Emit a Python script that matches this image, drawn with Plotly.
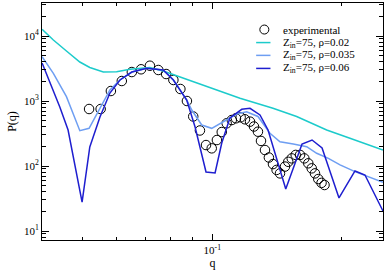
import plotly.graph_objects as go

# experimental data
exp_q = [0.0517, 0.0550, 0.0581, 0.0616, 0.0650, 0.0683, 0.0716, 0.0749, 0.0781, 0.0812,
         0.0843, 0.0873, 0.0903, 0.0936, 0.0967, 0.0997, 0.1025, 0.1052, 0.1080, 0.1110,
         0.1135, 0.1164, 0.1191, 0.1224, 0.1250, 0.1277, 0.1298, 0.1326, 0.1354, 0.1384,
         0.1411, 0.1437, 0.1476, 0.1502, 0.1530, 0.1563, 0.1600, 0.1637, 0.1672, 0.1703,
         0.1733, 0.1764, 0.1795, 0.1824]
exp_p = [753, 753, 1425, 2031, 2790, 3075, 3490, 3000, 2600, 2105,
         1530, 1000, 578, 352, 210, 187, 251, 333, 454, 510,
         542, 561, 523, 481, 405, 337, 243, 176, 135, 107,
         87, 77, 98, 116, 131, 148, 148, 131, 110, 92,
         77, 63, 55, 51]

# model Z_in=75, rho=0.02
q_02 = [0.0402, 0.0427, 0.0458, 0.0492, 0.0519, 0.0558, 0.0599, 0.0644, 0.0716, 0.0769,
        0.1160, 0.1384, 0.1571, 0.1845, 0.2090, 0.2494]
p_02 = [12680, 8680, 5875, 3980, 3275, 2790, 2825, 3075, 3275, 2894,
        1101, 772, 578, 358, 267, 176]

# model Z_in=75, rho=0.035
q_035 = [0.0402, 0.0427, 0.0458, 0.0492, 0.0517, 0.0578, 0.0610, 0.0650, 0.0704, 0.0769,
         0.0812, 0.0872, 0.0896, 0.0945, 0.0997, 0.1061, 0.1140, 0.1202, 0.1277, 0.1362,
         0.1437, 0.1543, 0.1658, 0.1749, 0.1862, 0.1982, 0.2147, 0.2494]
p_035 = [4805, 2667, 1165, 349, 380, 1476, 2105, 2790, 3185, 3000,
         2105, 1036, 727, 427, 380, 475, 631, 684, 578, 318,
         236, 218, 198, 157, 131, 104, 82, 56]

# model Z_in=75, rho=0.06
q_06 = [0.0402, 0.0442, 0.0462, 0.0498, 0.0519, 0.0548, 0.0578, 0.0610, 0.0650, 0.0704,
        0.0769, 0.0812, 0.0872, 0.0912, 0.0936, 0.0967, 0.1015, 0.1052, 0.1099, 0.1171,
        0.1224, 0.1291, 0.1348, 0.1482, 0.1617, 0.1706, 0.1800, 0.1971, 0.2147, 0.2265,
        0.2494]
p_06 = [3845, 809, 358, 27.9, 196, 567, 1327, 2105, 2790, 3185,
        3000, 2105, 1036, 398, 196, 81, 78, 226, 548, 745,
        772, 609, 358, 44.3, 218, 251, 189, 32.2, 83.8, 72.7,
        20.3]

x_major = [0.1]
x_major_text = ["10<sup>-1</sup>"]
x_minor = [0.05, 0.06, 0.07, 0.08, 0.09, 0.2]
y_major = [10, 100, 1000, 10000]
y_major_text = ["10<sup>1</sup>", "10<sup>2</sup>", "10<sup>3</sup>", "10<sup>4</sup>"]
y_minor = [m * 10 ** e for e in range(0, 5) for m in range(2, 10)]

legend_labels = ["experimental", "Z<sub>in</sub>=75, ρ=0.02",
                 "Z<sub>in</sub>=75, ρ=0.035", "Z<sub>in</sub>=75, ρ=0.06"]
line_colors = ["#1ccbcb", "#6e9ef2", "#1e1ecf"]

FONT = "Liberation Serif"

fig = go.Figure()
fig.add_trace(go.Scatter(x=exp_q, y=exp_p, mode="markers", name=legend_labels[0],
                         marker=dict(symbol="circle-open", size=9.5, color="black",
                                     line=dict(width=1, color="black"))))
for q, p, c, lab in [(q_02, p_02, line_colors[0], legend_labels[1]),
                     (q_035, p_035, line_colors[1], legend_labels[2]),
                     (q_06, p_06, line_colors[2], legend_labels[3])]:
    fig.add_trace(go.Scatter(x=q, y=p, mode="lines", name=lab,
                             line=dict(color=c, width=1.5)))

# manual legend (paper coordinates)
leg_x_sym = 0.652
leg_x0, leg_x1 = 0.628, 0.67
leg_x_text = 0.700
leg_y = [0.888, 0.833, 0.779, 0.724]

shapes = [dict(type="circle", xref="paper", yref="paper", xsizemode="pixel", ysizemode="pixel",
               xanchor=leg_x_sym, yanchor=leg_y[0], x0=-4.5, x1=4.5, y0=-4.5, y1=4.5,
               line=dict(color="black", width=1))]
for i, c in enumerate(line_colors):
    shapes.append(dict(type="line", xref="paper", yref="paper", x0=leg_x0, x1=leg_x1,
                       y0=leg_y[i + 1], y1=leg_y[i + 1], line=dict(color=c, width=1.5)))
annotations = [dict(xref="paper", yref="paper", x=leg_x_text, y=leg_y[i], text=lab,
                    showarrow=False, xanchor="left", yanchor="middle",
                    font=dict(family=FONT, size=11, color="black"))
               for i, lab in enumerate(legend_labels)]

fig.update_layout(
    width=385, height=275,
    margin=dict(l=42, r=2, t=3, b=35),
    plot_bgcolor="white", paper_bgcolor="white",
    showlegend=False,
    font=dict(family=FONT, size=11, color="black"),
    shapes=shapes, annotations=annotations,
    xaxis=dict(type="log", range=[-1.396, -0.603], showgrid=False, zeroline=False,
               showline=True, linecolor="black", linewidth=1, mirror="allticks",
               ticks="inside", ticklen=6, tickwidth=1, tickcolor="black",
               tickmode="array", tickvals=x_major, ticktext=x_major_text,
               minor=dict(ticks="inside", ticklen=3, tickwidth=1, tickcolor="black",
                          tickmode="array", tickvals=x_minor, showgrid=False),
               tickfont=dict(family=FONT, size=11),
               title=dict(text="q", font=dict(family=FONT, size=12), standoff=2)),
    yaxis=dict(type="log", range=[0.8615, 4.5077], showgrid=False, zeroline=False,
               showline=True, linecolor="black", linewidth=1, mirror="allticks",
               ticks="inside", ticklen=7, tickwidth=1, tickcolor="black",
               tickmode="array", tickvals=y_major, ticktext=y_major_text,
               minor=dict(ticks="inside", ticklen=4, tickwidth=1, tickcolor="black",
                          tickmode="array", tickvals=y_minor, showgrid=False),
               tickfont=dict(family=FONT, size=11),
               title=dict(text="P(q)", font=dict(family=FONT, size=12), standoff=4)),
)

fig.write_html("out.html", config={"displayModeBar": False},
               post_script="document.body.style.margin='0';")
